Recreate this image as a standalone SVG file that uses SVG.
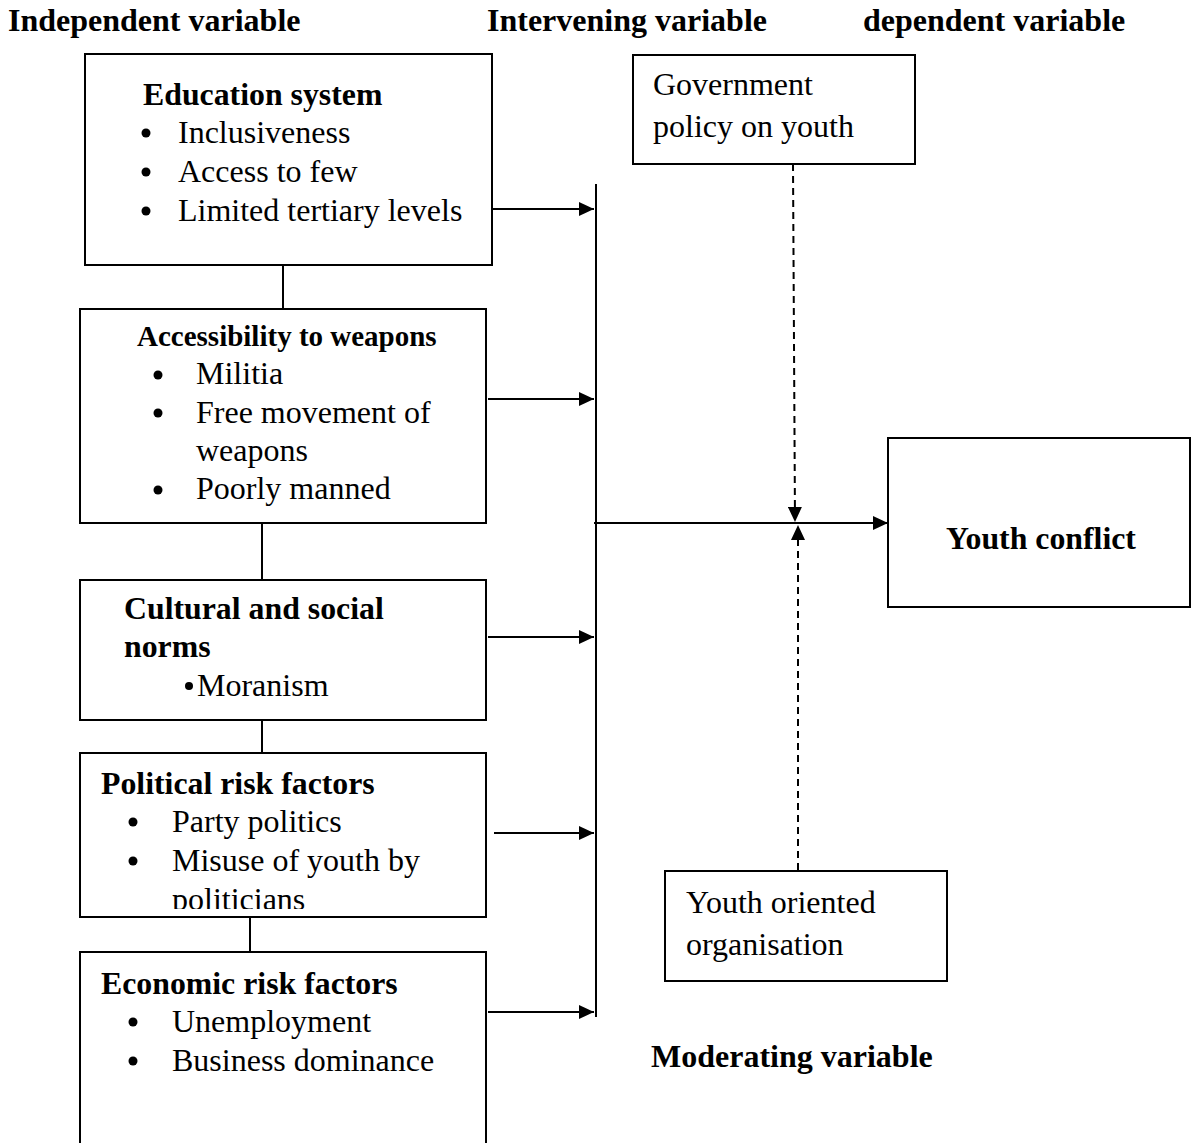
<svg xmlns="http://www.w3.org/2000/svg" width="1191" height="1143" viewBox="0 0 1191 1143">
<defs>
<style>
text{font-family:"Liberation Serif","Times New Roman",serif;fill:#000}
.h{font-size:32px;font-weight:bold}
.t{font-size:32px}
.b{font-size:31.8px;font-weight:bold}
.bs{font-size:29px;font-weight:bold}
.box{fill:#fff;stroke:#000;stroke-width:2}
.ln{stroke:#000;stroke-width:2;fill:none}
.dash{stroke:#000;stroke-width:2;fill:none;stroke-dasharray:7,5}
</style>
<marker id="ah" markerUnits="userSpaceOnUse" markerWidth="16" markerHeight="14" refX="15" refY="7" orient="auto">
<path d="M0,0 L15,7 L0,14 Z" fill="#000"/>
</marker>
<clipPath id="c4"><rect x="80" y="753" width="406" height="156"/></clipPath>
</defs>
<rect width="1191" height="1143" fill="#fff"/>

<g id="headers">
<text class="h" x="8" y="31">Independent variable</text>
<text class="h" x="487" y="31">Intervening variable</text>
<text class="h" x="863" y="31">dependent variable</text>
<text class="h" x="651" y="1067">Moderating variable</text>
</g>

<g id="connectors">
<line class="ln" x1="283" y1="265" x2="283" y2="309"/>
<line class="ln" x1="262" y1="523" x2="262" y2="580"/>
<line class="ln" x1="262" y1="720" x2="262" y2="753"/>
<line class="ln" x1="250" y1="917" x2="250" y2="952"/>
<line class="ln" x1="596" y1="184" x2="596" y2="1017"/>
<line class="ln" x1="488" y1="209" x2="594" y2="209" marker-end="url(#ah)"/>
<line class="ln" x1="488" y1="399" x2="594" y2="399" marker-end="url(#ah)"/>
<line class="ln" x1="488" y1="637" x2="594" y2="637" marker-end="url(#ah)"/>
<line class="ln" x1="494" y1="833" x2="594" y2="833" marker-end="url(#ah)"/>
<line class="ln" x1="488" y1="1012" x2="594" y2="1012" marker-end="url(#ah)"/>
<line class="ln" x1="594" y1="523" x2="888" y2="523" marker-end="url(#ah)"/>
<line class="dash" x1="793" y1="164" x2="795" y2="522" marker-end="url(#ah)"/>
<line class="dash" x1="798" y1="870" x2="798" y2="525" marker-end="url(#ah)"/>
</g>

<g id="education">
<rect class="box" x="85" y="54" width="407" height="211"/>
<text class="b" x="143" y="105">Education system</text>
<circle cx="146" cy="133" r="4.5"/>
<text class="t" x="178" y="143">Inclusiveness</text>
<circle cx="146" cy="172" r="4.5"/>
<text class="t" x="178" y="182">Access to few</text>
<circle cx="146" cy="211" r="4.5"/>
<text class="t" x="178" y="221">Limited tertiary levels</text>
</g>

<g id="weapons">
<rect class="box" x="80" y="309" width="406" height="214"/>
<text class="bs" x="137" y="346">Accessibility to weapons</text>
<circle cx="158" cy="375" r="4.5"/>
<text class="t" x="196" y="384">Militia</text>
<circle cx="158" cy="413" r="4.5"/>
<text class="t" x="196" y="423">Free movement of</text>
<text class="t" x="196" y="461">weapons</text>
<circle cx="158" cy="490" r="4.5"/>
<text class="t" x="196" y="499">Poorly manned</text>
</g>

<g id="cultural">
<rect class="box" x="80" y="580" width="406" height="140"/>
<text class="b" x="124" y="619">Cultural and social</text>
<text class="b" x="124" y="657">norms</text>
<circle cx="189" cy="686" r="4"/>
<text class="t" x="197" y="696">Moranism</text>
</g>

<g id="political">
<rect class="box" x="80" y="753" width="406" height="164"/>
<text class="b" x="101" y="794">Political risk factors</text>
<circle cx="133" cy="822" r="4.5"/>
<text class="t" x="172" y="832">Party politics</text>
<circle cx="133" cy="861" r="4.5"/>
<text class="t" x="172" y="871">Misuse of youth by</text>
<text class="t" x="172" y="910" clip-path="url(#c4)">politicians</text>
</g>

<g id="economic">
<rect class="box" x="80" y="952" width="406" height="200"/>
<text class="b" x="101" y="994">Economic risk factors</text>
<circle cx="133" cy="1022" r="4.5"/>
<text class="t" x="172" y="1032">Unemployment</text>
<circle cx="133" cy="1061" r="4.5"/>
<text class="t" x="172" y="1071">Business dominance</text>
</g>

<g id="government">
<rect class="box" x="633" y="55" width="282" height="109"/>
<text class="t" x="653" y="95">Government</text>
<text class="t" x="653" y="137">policy on youth</text>
</g>

<g id="youth-org">
<rect class="box" x="665" y="871" width="282" height="110"/>
<text class="t" x="686" y="913">Youth oriented</text>
<text class="t" x="686" y="955">organisation</text>
</g>

<g id="youth-conflict">
<rect class="box" x="888" y="438" width="302" height="169"/>
<text class="b" x="1041" y="549" text-anchor="middle">Youth conflict</text>
</g>
</svg>
